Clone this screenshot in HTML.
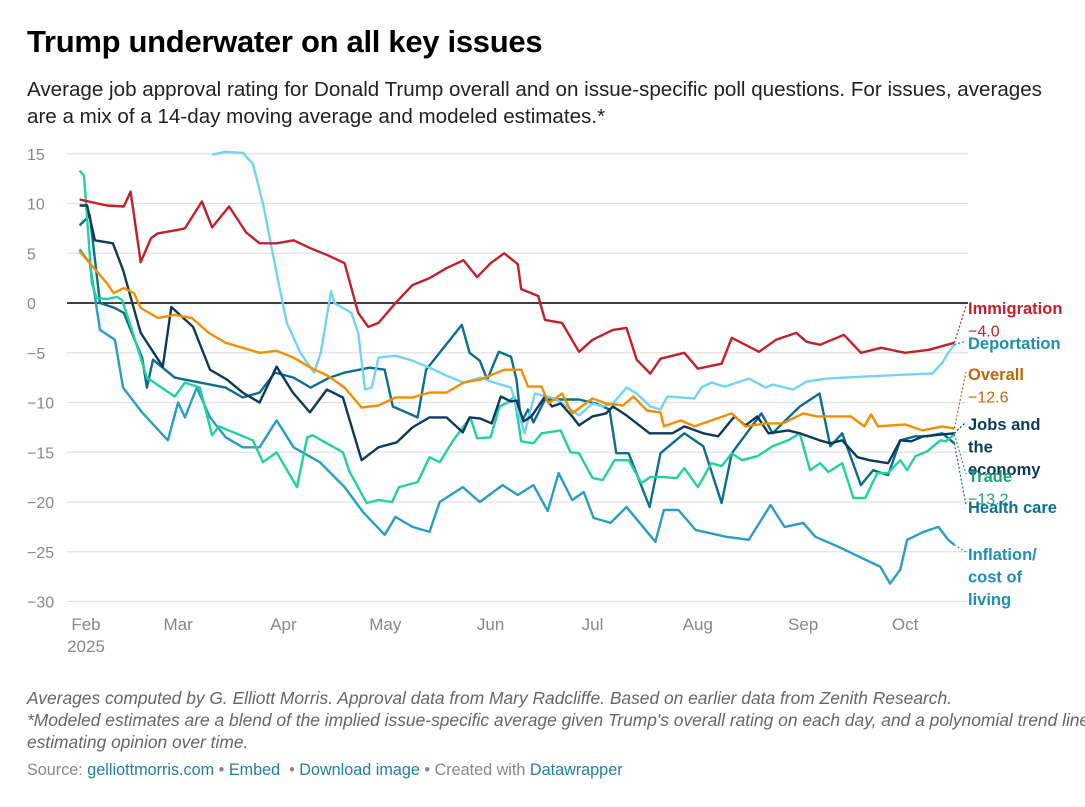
<!DOCTYPE html>
<html><head><meta charset="utf-8">
<style>
body{margin:0;background:#fff;width:1085px;height:807px;overflow:hidden;font-family:"Liberation Sans",sans-serif;}
#title{position:absolute;left:27px;top:24px;font-size:31px;font-weight:bold;color:#000;margin:0;letter-spacing:-0.3px}
#sub{position:absolute;left:27px;top:76px;width:1058px;font-size:20.6px;line-height:27px;color:#222;white-space:nowrap}
#notes{position:absolute;left:27px;top:687px;width:1060px;font-size:17.4px;line-height:22px;color:#666;font-style:italic;white-space:nowrap}
#src{position:absolute;left:27px;top:761px;font-size:16.2px;color:#888;white-space:nowrap}
#src a{color:#1d81a2;text-decoration:none}
svg{position:absolute;left:0;top:0}
</style></head><body>
<h1 id="title">Trump underwater on all key issues</h1>
<div id="sub">Average job approval rating for Donald Trump overall and on issue-specific poll questions. For issues, averages<br>are a mix of a 14-day moving average and modeled estimates.*</div>
<svg id="chart" width="1085" height="807"></svg>
<div id="notes">Averages computed by G. Elliott Morris. Approval data from Mary Radcliffe. Based on earlier data from Zenith Research.<br>*Modeled estimates are a blend of the implied issue-specific average given Trump's overall rating on each day, and a polynomial trend line<br>estimating opinion over time.</div>
<div id="src">Source: <a>gelliottmorris.com</a> • <a>Embed</a> &nbsp;• <a>Download image</a> • Created with <a>Datawrapper</a></div>
<script>
const yTicks=[15,10,5,0,-5,-10,-15,-20,-25,-30];
const monthLabels=["Feb","Mar","Apr","May","Jun","Jul","Aug","Sep","Oct"];
const monthDays=[0,28,59,89,120,150,181,212,242];
const immDays=[-1,7,12,14,17,20,22,27,30,35,38,43,48,52,57,62,67,72,77,81,84,87,92,97,102,107,112,116,120,124,128,129,134,136,141,146,150,156,160,163,167,170,177,181,188,191,199,204,210,213,217,224,229,235,242,249,256.5];
const immVals=[10.4,9.8,9.7,11.2,4.1,6.5,7,7.3,7.5,10.2,7.6,9.7,7.1,6,6,6.3,5.5,4.8,4.0,-1.0,-2.4,-2.0,0,1.8,2.5,3.5,4.3,2.6,4,5.0,3.9,1.4,0.7,-1.7,-2.0,-4.9,-3.7,-2.7,-2.5,-5.7,-7.1,-5.6,-5.0,-6.6,-6.1,-3.5,-4.9,-3.7,-3.0,-3.9,-4.2,-3.2,-5.0,-4.5,-5.0,-4.7,-4.0];
const ovrDays=[-1,2,7,9,12,15,17,22,27,32,37,42,47,52,57,62,67,72,77,82,87,92,97,102,107,112,117,124,129,131,135,137,141,144,150,154,159,162,166,170,171,176,180,185,191,195,201,206,212,216,226,230,232,234,242,247,253,256.5];
const ovrVals=[5.2,4,2.0,1.0,1.5,1.0,-0.5,-1.5,-1.2,-1.5,-3.0,-4.0,-4.5,-5.0,-4.8,-5.5,-6.5,-7.3,-8.5,-10.5,-10.3,-9.5,-9.5,-9.0,-9.0,-8.0,-7.7,-6.7,-6.7,-8.4,-8.4,-10.1,-9.1,-11.1,-9.6,-10.1,-10.3,-9.4,-10.8,-11,-12.4,-11.8,-12.4,-11.8,-11.1,-12.4,-12.1,-12.1,-11.1,-11.4,-11.4,-12.4,-11.2,-12.4,-12.2,-12.8,-12.4,-12.6];
const depDays=[38,42,47,50,53,57,60,64,68,70,73,74,79,81,83,85,87,92,97,102,107,112,117,121,126,130,133,139,146,150,153,156,160,163,167,170,172,180,182,185,189,196,201,203,209,213,219,230,242,250,253,254.7,256.5];
const depVals=[14.9,15.2,15.1,14,10,3,-2,-5,-7,-5,1.2,0,-1,-3,-8.7,-8.5,-5.5,-5.3,-5.8,-6.5,-7.3,-8.0,-7.5,-8.0,-8.5,-13.1,-9.1,-9.6,-11.3,-10.1,-10.4,-10.1,-8.5,-9.1,-10.4,-10.7,-9.4,-9.6,-8.5,-8.0,-8.4,-7.6,-8.5,-8.2,-8.7,-7.9,-7.6,-7.4,-7.2,-7.1,-6.0,-5.0,-4.2];
const trdDays=[-1,0.3,2.6,4,7,10,11.5,14.4,18.8,27,30,34.4,38,40,50,53,57,63,66,67.6,76.5,78.5,83.5,87,91,93,98.5,102,105,109,114,116,120,122.6,125,127,129,132.6,135,140.6,143.5,146,150,153,156.5,160.6,164.4,167,171,174.7,177,181,185,188,191,194,198.5,203,207.6,211,214,217,219.4,223.5,226.8,230.3,233.8,237,240.6,242.6,245,248.5,252.4,254,256.5];
const trdVals=[13.3,12.8,2,0.5,0.4,0.6,0.3,-2.7,-7.5,-9.4,-8,-8.5,-13.3,-12.4,-13.8,-16,-15,-18.5,-13.5,-13.3,-15,-17,-20.1,-19.8,-20,-18.5,-18,-15.5,-16,-13.8,-11.5,-13.6,-13.5,-10.4,-10,-9.4,-13.9,-14.1,-13.1,-12.8,-15,-15.1,-17.6,-17.8,-15.8,-15.8,-18.1,-17.5,-17.5,-17.6,-16.6,-18.5,-16.1,-16.4,-15.1,-15.8,-15.4,-14.4,-13.8,-13.1,-16.8,-16.1,-17,-16.1,-19.6,-19.6,-17.1,-17.1,-15.8,-16.8,-15.4,-14.9,-13.8,-13.9,-13.2];
const jobDays=[-1,1.2,3.5,8.8,11.8,17,23.5,26,32.4,37.4,42.4,47,52,57,61.8,66.8,71.8,76.5,82,87,92.4,97,102,107,111.8,113.8,116.8,120.3,123,126,127.6,129.7,132,136,138,140.6,144,146,150,154,156,160,166.8,173.5,177,182.6,187,191.8,195,198.5,201.8,207.6,211,216.8,220,223.5,228,231.5,237,240.6,243.8,247.4,256.5];
const jobVals=[9.8,9.8,6.3,6.0,3.3,-3,-6.4,-0.4,-2.4,-6.7,-7.7,-9,-10,-6.4,-9,-11,-8.7,-9.5,-15.8,-14.5,-14,-12.5,-11.5,-11.5,-13,-11.5,-11.6,-12.1,-9.4,-9.9,-9.8,-11.9,-11.4,-9.4,-10.4,-10.1,-11.4,-12.3,-11.4,-11.1,-10.4,-11.3,-13.1,-13.1,-12.4,-13.1,-13.4,-11.4,-12.3,-11.4,-13.1,-12.8,-13.1,-13.8,-14.1,-13.8,-15.5,-15.8,-16.1,-13.8,-13.9,-13.4,-13.1];
const hcDays=[-1,2,5,9.4,12,14.4,17.4,18.8,20.6,27,34.4,42,47,52,56.5,62,67,72.6,77,84.4,88.8,91.2,98.5,101,111.5,113.8,116.8,119,122.4,126,127.6,129,131,132.6,136,140.6,146,151,155,157,160.6,166.8,170,177,182.6,188,191,196,199.7,203,205,211,216.8,220,223.5,229,232.6,237,240.6,245,248.5,253,256.5];
const hcVals=[7.8,8.8,0,-0.5,-1,-3,-5.5,-8.5,-5.7,-7.5,-8,-8.5,-9.5,-9,-7,-7.5,-8.5,-7.5,-7.0,-6.5,-6.7,-10.4,-11.5,-6.7,-2.2,-5,-5.8,-7.7,-4.9,-5.4,-7.7,-12,-10.7,-12,-9.7,-9.7,-9.7,-10.1,-10.7,-15.1,-15.1,-20.5,-15.1,-13.1,-14.4,-20.1,-15.1,-12.8,-11.1,-13.1,-12.4,-10.4,-9.1,-14.4,-13.1,-18.3,-16.8,-17.3,-13.8,-13.4,-13.4,-13.1,-14.1];
const infDays=[-1,2,5,9.4,11.8,17.4,25,28,30,33.5,37.4,42,47,52,57,62,69.7,77,82.4,88.8,92,97,102,105,111.8,116.8,123.5,128,132.6,136.8,140,144,147.4,150.3,155.3,160,168.5,171,175.3,180.3,189.4,196,202.4,206.5,212,215.6,222.4,230.3,234.7,237.6,240.6,242.6,247.4,251.8,254.7,256.5];
const infVals=[5.4,4,-2.7,-3.7,-8.5,-11,-13.8,-10,-11.5,-8.5,-11.5,-13.5,-14.5,-14.5,-11.8,-14.5,-16,-18.5,-21,-23.3,-21.5,-22.5,-23,-20,-18.5,-20,-18.3,-19.3,-18.3,-20.9,-17.1,-19.8,-19,-21.6,-22.1,-20.5,-24,-20.8,-20.8,-22.8,-23.5,-23.8,-20.3,-22.5,-22.1,-23.5,-24.5,-25.8,-26.5,-28.2,-26.8,-23.8,-23,-22.5,-23.8,-24.3];

const NS='http://www.w3.org/2000/svg';
const svg=document.getElementById('chart');
const X0=67,X1=968,Y_ZERO=303,PX_PER_UNIT=9.95,DAY0_X=83,PX_PER_DAY=3.397;
const xs=d=>DAY0_X+d*PX_PER_DAY;
const ys=v=>Y_ZERO-v*PX_PER_UNIT;
function mk(tag,attrs,parent){const e=document.createElementNS(NS,tag);for(const k in attrs)e.setAttribute(k,attrs[k]);(parent||svg).appendChild(e);return e;}

yTicks.forEach(t=>{
  const g=mk('line',{x1:X0,x2:X1,y1:ys(t),y2:ys(t),stroke:t===0?'#000':'#e2e2e2','stroke-width':t===0?1.6:1.3});
  
  
  const tx=mk('text',{x:27,y:ys(t)+6,'font-size':16,fill:'#888','font-family':'Liberation Sans, sans-serif'});
  tx.textContent=t<0?'\u2212'+Math.abs(t):String(t);
  
  
});
monthLabels.forEach((m,i)=>{
  const x=i===0?xs(monthDays[i])+3:xs(monthDays[i]);
  const tx=mk('text',{x:x,y:630,'font-size':17,fill:'#888','text-anchor':'middle','font-family':'Liberation Sans, sans-serif'});
  tx.textContent=m;
  
  
});
const yr=mk('text',{x:xs(0)+3,y:652,'font-size':17,fill:'#888','text-anchor':'middle','font-family':'Liberation Sans, sans-serif'});
yr.textContent='2025';



const series=[
 {name:'inflation',days:infDays,vals:infVals,color:'#2a9cc8'},
 {name:'health-care',days:hcDays,vals:hcVals,color:'#0d6d8f'},
 {name:'trade',days:trdDays,vals:trdVals,color:'#22d29c'},
 {name:'deportation',days:depDays,vals:depVals,color:'#72d3f6'},
 {name:'jobs-economy',days:jobDays,vals:jobVals,color:'#0b3a5e'},
 {name:'overall',days:ovrDays,vals:ovrVals,color:'#f18f01'},
 {name:'immigration',days:immDays,vals:immVals,color:'#c0212b'}
];
series.forEach(s=>{
  const d=s.days.map((dd,i)=>(i?'L':'M')+xs(dd).toFixed(1)+','+ys(s.vals[i]).toFixed(1)).join(' ');
  const p=mk('path',{d:d,fill:'none',stroke:s.color,'stroke-width':2.4,'stroke-linejoin':'round'});
  
  
});

const labels=[
 {lines:['Immigration','\u22124.0'],y:314,color:'#c0212b',end:immVals,days:immDays},
 {lines:['Deportation'],y:349,color:'#1e8eae',end:depVals,days:depDays},
 {lines:['Overall','\u221212.6'],y:380,color:'#c0650a',end:ovrVals,days:ovrDays},
 {lines:['Jobs and','the','economy'],y:430,color:'#0b3a5e',end:jobVals,days:jobDays},
 {lines:['Trade','\u221213.2'],y:482,color:'#1ba46f',end:trdVals,days:trdDays},
 {lines:['Health care'],y:513,color:'#0f6f93',end:hcVals,days:hcDays},
 {lines:['Inflation/','cost of','living'],y:560,color:'#1d8fb8',end:infVals,days:infDays}
];
labels.forEach(l=>{
  const lx=xs(l.days[l.days.length-1]), ly=ys(l.end[l.end.length-1]);
  const c=mk('line',{x1:lx,y1:ly,x2:966,y2:l.y-8,stroke:l.color,'stroke-width':1.2,'stroke-dasharray':'2,2'});
  
  
  l.lines.forEach((t,i)=>{
    const isVal=t.startsWith('\u2212');
    const tx=mk('text',{x:968,y:l.y+i*22.5,'font-size':isVal?16:16.5,'font-weight':isVal?'normal':'bold',fill:l.color,'font-family':'Liberation Sans, sans-serif'});
    tx.textContent=t;
    
    
  });
});
</script>
</body></html>
